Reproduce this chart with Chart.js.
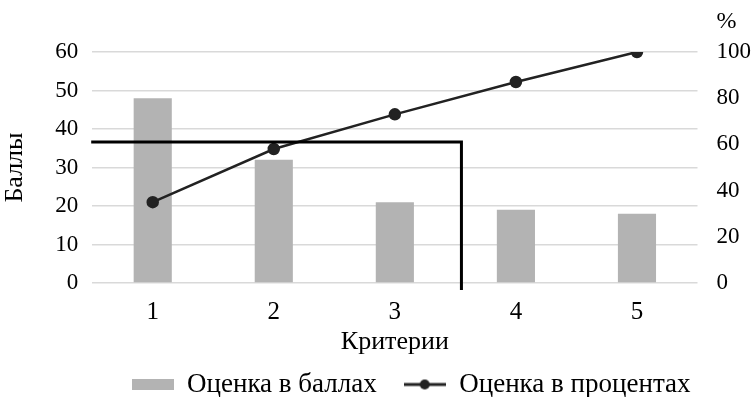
<!DOCTYPE html>
<html>
<head>
<meta charset="utf-8">
<script src="https://cdn.jsdelivr.net/npm/chart.js@4.4.0/dist/chart.umd.min.js"></script>
<style>
  body { margin: 0; background: #fff; }
  #wrap { width: 753px; height: 397px; }
</style>
</head>
<body>
<div id="wrap"><canvas id="grafico"></canvas></div>
<script>
const criterios = ['1', '2', '3', '4', '5'];
const notasBallah = [48, 32, 21, 19, 18];        // Оценка в баллах
const notasProcent = [35, 58, 73, 87, 100];      // Оценка в процентах
const ticksBally = [0, 10, 20, 30, 40, 50, 60];
const ticksProcent = [0, 20, 40, 60, 80, 100];
const porogProcent = 61;     // горизонтальная линия отсечки, %
const porogKriteriy = 3.55;  // вертикальная линия между 3 и 4

const fonte = "'Liberation Serif', 'Times New Roman', serif";
Chart.defaults.font.family = fonte;
Chart.defaults.color = '#000';

// icons for legend
function iconeBarra() {
  const c = document.createElement('canvas');
  c.width = 42; c.height = 11;
  const g = c.getContext('2d');
  g.fillStyle = '#b3b3b3';
  g.fillRect(0, 0, 42, 11);
  return c;
}
function iconeLinha() {
  const c = document.createElement('canvas');
  c.width = 42; c.height = 12;
  const g = c.getContext('2d');
  g.strokeStyle = '#222'; g.lineWidth = 3;
  g.beginPath(); g.moveTo(0, 6); g.lineTo(42, 6); g.stroke();
  g.fillStyle = '#222';
  g.beginPath(); g.arc(21, 6, 5, 0, Math.PI * 2); g.fill();
  return c;
}
const icones = [iconeBarra(), iconeLinha()];

// legend: fixed height and shifted to the right
const ajusteLegenda = {
  id: 'ajusteLegenda',
  beforeInit(chart) {
    const leg = chart.legend;
    const fitOrig = leg.fit;
    leg.fit = function () { fitOrig.call(this); this.height = 53; };
  },
  afterLayout(chart) {
    chart.legend.left += 26;
    chart.legend.right += 26;
  }
};

const linhasCorte = {
  id: 'linhasCorte',
  afterDatasetsDraw(chart) {
    const { ctx, chartArea, scales } = chart;
    const y = scales.y1.getPixelForValue(porogProcent);
    const x = scales.x.getPixelForValue(porogKriteriy - 1);
    ctx.save();
    ctx.strokeStyle = '#000';
    ctx.lineWidth = 3;
    ctx.beginPath();
    ctx.moveTo(chartArea.left - 1, y);
    ctx.lineTo(x, y);
    ctx.lineTo(x, chartArea.bottom + 7);
    ctx.stroke();
    ctx.restore();
  },
  afterDraw(chart) {
    const { ctx, chartArea, scales } = chart;
    ctx.save();
    ctx.font = '24px ' + fonte;
    ctx.fillStyle = '#000';
    ctx.textAlign = 'left';
    ctx.textBaseline = 'middle';
    ctx.fillText('%', scales.y1.left + 19, chartArea.top - 30);
    ctx.restore();
  }
};

new Chart(document.getElementById('grafico'), {
  type: 'bar',
  data: {
    labels: criterios,
    datasets: [{
      type: 'bar',
      label: 'Оценка в баллах',
      data: notasBallah,
      backgroundColor: '#b3b3b3',
      yAxisID: 'y',
      categoryPercentage: 1,
      barPercentage: 0.315,
      order: 2
    }, {
      type: 'line',
      label: 'Оценка в процентах',
      data: notasProcent,
      borderColor: '#222',
      backgroundColor: '#222',
      borderWidth: 2.5,
      pointRadius: 5,
      pointHoverRadius: 5,
      yAxisID: 'y1',
      order: 1
    }]
  },
  options: {
    responsive: true,
    maintainAspectRatio: false,
    animation: false,
    layout: { padding: { top: 52, left: 0, right: -17, bottom: 0 } },
    plugins: {
      tooltip: { enabled: false },
      legend: {
        position: 'bottom',
        labels: {
          usePointStyle: true,
          pointStyleWidth: 42,
          font: { size: 27, lineHeight: 1 },
          padding: 27,
          generateLabels(chart) {
            const itens = Chart.defaults.plugins.legend.labels.generateLabels(chart);
            itens.forEach(it => { it.pointStyle = icones[it.datasetIndex]; });
            itens.sort((a, b) => a.datasetIndex - b.datasetIndex);
            return itens;
          }
        }
      }
    },
    scales: {
      x: {
        grid: { display: false },
        border: { display: false },
        ticks: { font: { size: 25, lineHeight: 1 }, padding: 9 },
        title: { display: true, text: 'Критерии', font: { size: 26, lineHeight: 1 }, padding: { top: -5, bottom: -11 } }
      },
      y: {
        position: 'left',
        min: 0, max: 60,
        afterBuildTicks(ax) { ax.ticks = ticksBally.map(v => ({ value: v })); },
        grid: { color: '#d9d9d9', lineWidth: 1.5, drawTicks: false },
        border: { display: false },
        ticks: { font: { size: 23 }, padding: 14 },
        title: { display: true, text: 'Баллы', font: { size: 26 }, padding: { top: 0, bottom: 10 } }
      },
      y1: {
        position: 'right',
        min: 0, max: 100,
        afterBuildTicks(ax) { ax.ticks = ticksProcent.map(v => ({ value: v })); },
        grid: { display: false, drawTicks: false },
        border: { display: false },
        ticks: { font: { size: 23 }, padding: 19 }
      }
    }
  },
  plugins: [ajusteLegenda, linhasCorte]
});
</script>
</body>
</html>
